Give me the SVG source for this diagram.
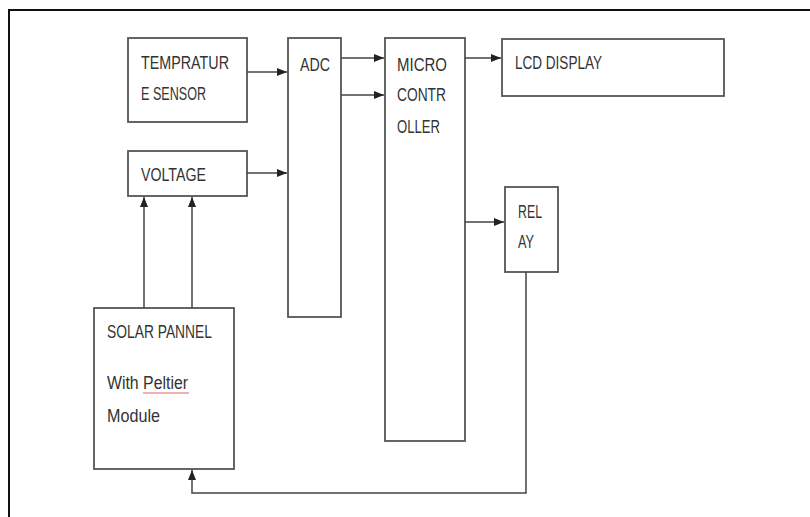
<svg xmlns="http://www.w3.org/2000/svg" width="810" height="517" viewBox="0 0 810 517">
<style>
.box{fill:#fff;stroke:#555;stroke-width:1.8}
.ln{fill:none;stroke:#444;stroke-width:1.5}
.t{font-family:"Liberation Sans",Arial,sans-serif;font-size:18px;fill:#333}
</style>
<defs>
<marker id="ah" markerUnits="userSpaceOnUse" markerWidth="11" markerHeight="10" refX="10" refY="4" orient="auto">
<path d="M0,0 L10,4 L0,8 z" fill="#222"/>
</marker>
</defs>
<rect width="810" height="517" fill="#fff"/>
<path d="M9,517 V10 H810" fill="none" stroke="#111" stroke-width="2"/>
<g id="temp">
<rect class="box" x="128" y="38" width="119" height="84"/>
<text class="t" x="141" y="69" textLength="88" lengthAdjust="spacingAndGlyphs">TEMPRATUR</text>
<text class="t" x="141" y="100" textLength="65" lengthAdjust="spacingAndGlyphs">E SENSOR</text>
</g>
<g id="voltage">
<rect class="box" x="128" y="151" width="119" height="45"/>
<text class="t" x="141" y="181" textLength="65" lengthAdjust="spacingAndGlyphs">VOLTAGE</text>
</g>
<g id="adc">
<rect class="box" x="288" y="38" width="53" height="279"/>
<text class="t" x="300" y="71" textLength="30" lengthAdjust="spacingAndGlyphs">ADC</text>
</g>
<g id="mc">
<rect class="box" x="385" y="38" width="80" height="403"/>
<text class="t" x="397" y="71" textLength="50" lengthAdjust="spacingAndGlyphs">MICRO</text>
<text class="t" x="397" y="101" textLength="49" lengthAdjust="spacingAndGlyphs">CONTR</text>
<text class="t" x="397" y="133" textLength="43" lengthAdjust="spacingAndGlyphs">OLLER</text>
</g>
<g id="lcd">
<rect class="box" x="502" y="39" width="222" height="57"/>
<text class="t" x="515" y="69" textLength="87" lengthAdjust="spacingAndGlyphs">LCD DISPLAY</text>
</g>
<g id="relay">
<rect class="box" x="505" y="187" width="53" height="85"/>
<text class="t" x="518" y="218" textLength="24" lengthAdjust="spacingAndGlyphs">REL</text>
<text class="t" x="518" y="248" textLength="16" lengthAdjust="spacingAndGlyphs">AY</text>
</g>
<g id="solar">
<rect class="box" x="94" y="308" width="140" height="161"/>
<text class="t" x="107" y="338" textLength="105" lengthAdjust="spacingAndGlyphs">SOLAR PANNEL</text>
<text class="t" x="107" y="389" textLength="81" lengthAdjust="spacingAndGlyphs">With Peltier</text>
<path d="M143,393 H189" stroke="#e06070" stroke-width="1" fill="none"/>
<text class="t" x="107" y="422" textLength="53" lengthAdjust="spacingAndGlyphs">Module</text>
</g>
<g id="connectors">
<path class="ln" d="M247,72 H287" marker-end="url(#ah)"/>
<path class="ln" d="M247,173 H287" marker-end="url(#ah)"/>
<path class="ln" d="M341,58 H384" marker-end="url(#ah)"/>
<path class="ln" d="M341,95 H384" marker-end="url(#ah)"/>
<path class="ln" d="M465,58 H501" marker-end="url(#ah)"/>
<path class="ln" d="M465,222 H504" marker-end="url(#ah)"/>
<path class="ln" d="M144,308 V197" marker-end="url(#ah)"/>
<path class="ln" d="M192,308 V197" marker-end="url(#ah)"/>
<path class="ln" d="M526,272 V493 H192 V470" marker-end="url(#ah)"/>
</g>
</svg>
